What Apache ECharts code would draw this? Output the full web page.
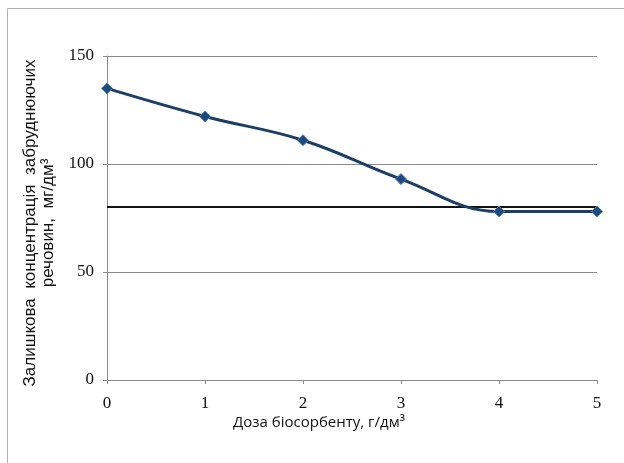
<!DOCTYPE html>
<html><head><meta charset="utf-8">
<script src="https://cdn.jsdelivr.net/npm/echarts@6/dist/echarts.min.js"></script>
<style>html,body{margin:0;padding:0;background:#fff}#c{width:624px;height:463px}</style>
</head><body><div id="c"></div>
<script>
const doses = [0, 1, 2, 3, 4, 5];
const concentration = [135, 122, 111, 93, 78, 78];
const limitValue = 80;
const yTicks = [0, 50, 100, 150];
const xTitle = 'Доза біосорбенту, г/дм³';
const yTitle = 'Залишкова  концентрація  забруднюючих\nречовин,  мг/дм³';

const chart = echarts.init(document.getElementById('c'), null, {renderer: 'canvas'});
chart.setOption({
  animation: false,
  backgroundColor: '#fff',
  grid: {left: 107, right: 27, top: 56, bottom: 83, containLabel: false},
  graphic: [
    {type: 'rect', shape: {x: 7.5, y: 8.5, width: 700, height: 600},
     style: {fill: 'none', stroke: '#b0b0b0', lineWidth: 1}, silent: true, z: -10},
    {type: 'text', left: 233, top: 415,
     style: {text: xTitle, font: '15px "Open Sans", "Noto Sans", sans-serif', fill: '#111'}}
  ],
  xAxis: {
    type: 'value', min: 0, max: 5, interval: 1,
    axisLine: {show: true, lineStyle: {color: '#8c8c8c', width: 1}},
    axisTick: {show: true, length: 4, lineStyle: {color: '#8c8c8c'}},
    axisLabel: {fontFamily: '"Liberation Serif", serif', fontSize: 17, color: '#111', margin: 15},
    splitLine: {show: false}
  },
  yAxis: {
    type: 'value', min: 0, max: 150, interval: 50,
    name: yTitle, nameLocation: 'middle', nameRotate: 90, nameGap: 40,
    nameTextStyle: {fontFamily: '"Liberation Sans", Arial, sans-serif', fontSize: 17, color: '#111', lineHeight: 18,
      padding: [0, 10, 0, 0]},
    axisLine: {show: true, lineStyle: {color: '#8c8c8c', width: 1}},
    axisTick: {show: true, length: 4, lineStyle: {color: '#8c8c8c'}},
    axisLabel: {fontFamily: '"Liberation Serif", serif', fontSize: 17, color: '#111', margin: 13,
      formatter: v => yTicks.includes(v) ? String(v) : ''},
    splitLine: {show: true, lineStyle: {color: '#8c8c8c', width: 1}}
  },
  series: [{
    type: 'line',
    data: doses.map((d, i) => [d, concentration[i]]),
    smooth: 0.4,
    symbol: 'diamond', symbolSize: 11,
    lineStyle: {color: '#1c3f66', width: 3},
    itemStyle: {color: '#1f497d', borderColor: '#4f81bd', borderWidth: 1},
    z: 3,
    markLine: {
      silent: true, symbol: ['none', 'none'], label: {show: false},
      lineStyle: {color: '#111', width: 2, type: 'solid'},
      data: [{yAxis: limitValue}],
      z: 2
    }
  }]
});
</script></body></html>
